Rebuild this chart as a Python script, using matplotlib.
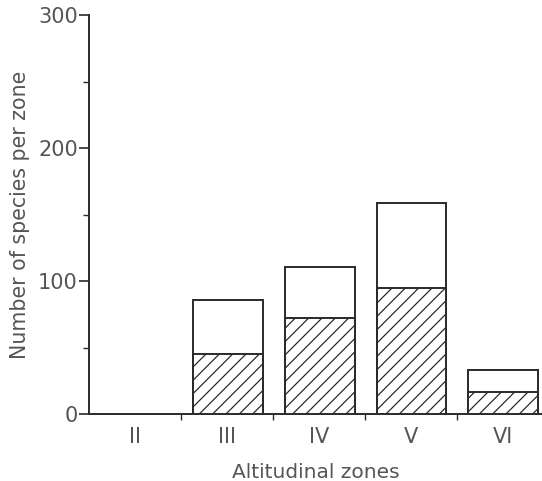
import matplotlib.pyplot as plt
import numpy as np

# render at 80 dpi so the '//' hatch spacing matches the reference (~13 px);
# all point sizes are scaled by k so the result looks like 100 dpi
DPI = 80
k = 100 / DPI

plt.rcParams['font.family'] = ['DejaVu Sans']
plt.rcParams['hatch.linewidth'] = 0.9 * k

zones = ['II', 'III', 'IV', 'V', 'VI']
total = [0, 86, 111, 159, 33]
hatched = [0, 45, 72, 95, 16.5]

grey = '#555555'
edge = '#2a2a2a'

fig = plt.figure(figsize=(542 / DPI, 481 / DPI), dpi=DPI)
ax = fig.add_axes([0.164, 0.139, 0.836, 0.8295])

x = np.arange(len(zones)) + 0.5
w = 0.76
for xi, t, h in zip(x, total, hatched):
    if t == 0:
        continue
    ax.bar(xi + 0.01, t, width=w, facecolor='white', edgecolor=edge,
           linewidth=1.4 * k, zorder=2)
    ax.bar(xi + 0.01, h, width=w, facecolor='white', edgecolor=edge,
           linewidth=1.4 * k, hatch='//', zorder=3)

ax.set_xlim(0, 4.93)
ax.set_ylim(0, 300)

for s in ['top', 'right']:
    ax.spines[s].set_visible(False)
for s in ['left', 'bottom']:
    ax.spines[s].set_linewidth(1.4 * k)
    ax.spines[s].set_color(edge)

ax.set_yticks([0, 100, 200, 300])
ax.set_yticks([50, 150, 250], minor=True)
ax.tick_params(axis='y', which='major', length=7 * k, width=1.2 * k, color=edge,
               labelsize=15 * k, labelcolor=grey, pad=1 * k)
ax.tick_params(axis='y', which='minor', length=4 * k, width=1.0 * k, color=edge)

ax.set_xticks([1, 2, 3, 4])
ax.set_xticklabels([])
ax.set_xticks(x, minor=True)
ax.set_xticklabels(zones, minor=True)
ax.tick_params(axis='x', which='major', length=4 * k, width=1.0 * k, color=edge)
ax.tick_params(axis='x', which='minor', length=0, labelsize=15 * k,
               labelcolor=grey, pad=9 * k)

ax.set_ylabel('Number of species per zone', fontsize=14.8 * k, color=grey,
              labelpad=6 * k)
ax.set_xlabel('Altitudinal zones', fontsize=14.5 * k, color=grey,
              labelpad=12 * k)

fig.savefig('out.png', dpi=DPI)
